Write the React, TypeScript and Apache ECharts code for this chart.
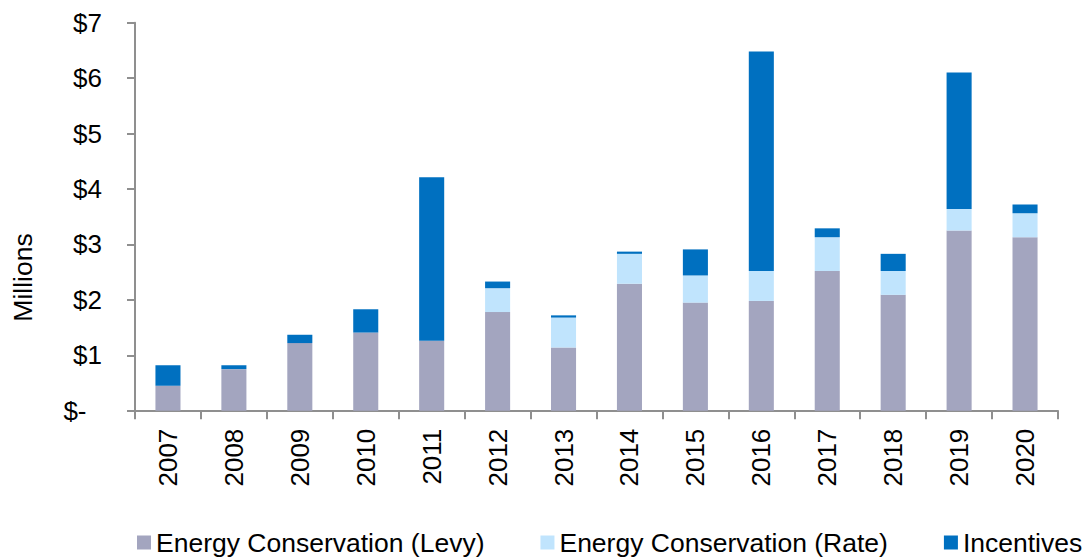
import React, { useEffect, useRef } from "react";
import * as echarts from "echarts";

const years = ["2007", "2008", "2009", "2010", "2011", "2012", "2013", "2014", "2015", "2016", "2017", "2018", "2019", "2020"];
const levy = [0.45, 0.75, 1.22, 1.41, 1.26, 1.78, 1.14, 2.29, 1.95, 1.98, 2.52, 2.09, 3.25, 3.13];
const rate = [0, 0, 0, 0, 0, 0.43, 0.54, 0.54, 0.49, 0.54, 0.61, 0.43, 0.39, 0.43];
const incentives = [0.37, 0.07, 0.15, 0.42, 2.95, 0.12, 0.04, 0.04, 0.47, 3.96, 0.16, 0.31, 2.46, 0.16];
const seriesNames = ["Energy Conservation (Levy)", "Energy Conservation (Rate)", "Incentives"];
const colors = ["#A3A5BF", "#C0E4FD", "#0070C0"];

const FONT = "'Liberation Sans', Arial, sans-serif";
const AXIS_COLOR = "#8F8F8F";

export default function App() {
  const ref = useRef<HTMLDivElement>(null);
  useEffect(() => {
    if (!ref.current) return;
    const chart = echarts.init(ref.current, null, { renderer: "svg" });
    const values = [levy, rate, incentives];
    chart.setOption({
      animation: false,
      backgroundColor: "#ffffff",
      textStyle: { fontFamily: FONT },
      grid: { left: 135, right: 33, top: 22.7, bottom: 147.3, containLabel: false },
      legend: {
        left: 137,
        top: 529,
        padding: 0,
        itemGap: 56,
        itemWidth: 14,
        itemHeight: 14,
        icon: "rect",
        textStyle: { fontSize: 26.5, color: "#000", fontFamily: FONT },
        data: seriesNames,
      },
      xAxis: {
        type: "category",
        data: years,
        boundaryGap: true,
        axisLine: { lineStyle: { color: AXIS_COLOR, width: 2 } },
        axisTick: { show: true, length: 8.5, inside: false, lineStyle: { color: AXIS_COLOR, width: 2 } },
        axisLabel: {
          rotate: 90,
          margin: 18,
          fontSize: 26,
          color: "#000",
          fontFamily: FONT,
          padding: [0, 0, 10, 0],
        },
      },
      yAxis: {
        type: "value",
        min: 0,
        max: 7,
        interval: 1,
        splitLine: { show: false },
        axisLine: { show: true, lineStyle: { color: AXIS_COLOR, width: 2 } },
        axisTick: { show: true, length: 8, lineStyle: { color: AXIS_COLOR, width: 2 } },
        axisLabel: {
          margin: 33,
          fontSize: 26,
          color: "#000",
          fontFamily: FONT,
          formatter: (v: number) => (v === 0 ? "{z|$-}" : "$" + v),
          rich: { z: { fontSize: 26, color: "#000", fontFamily: FONT, padding: [0, 15.5, 0, 0] } },
        },
      },
      graphic: [
        {
          type: "text",
          x: 22.7,
          y: 277.5,
          rotation: Math.PI / 2,
          style: {
            text: "Millions",
            fontSize: 26.5,
            fontFamily: FONT,
            fill: "#000",
            align: "center",
            verticalAlign: "middle",
          },
        },
      ],
      series: seriesNames.map((name, i) => ({
        name,
        type: "bar",
        stack: "total",
        barWidth: "38%",
        data: values[i],
        itemStyle: { color: colors[i] },
      })),
    });
    return () => chart.dispose();
  }, []);
  return <div ref={ref} style={{ position: "fixed", left: 0, top: 0, width: 1091, height: 558 }} />;
}
